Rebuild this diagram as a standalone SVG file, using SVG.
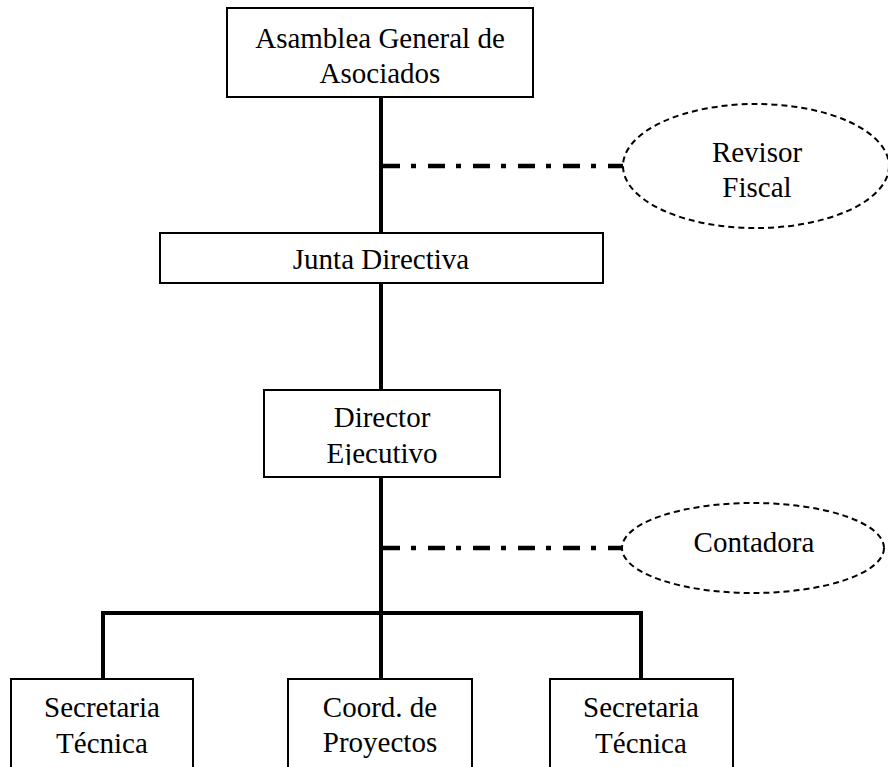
<svg xmlns="http://www.w3.org/2000/svg" width="888" height="767" viewBox="0 0 888 767">
<style>
.box{fill:#fff;stroke:#000;stroke-width:2}
.ell{fill:#fff;stroke:#000;stroke-width:2;stroke-dasharray:6 4}
.t{font-family:"Liberation Serif","Times New Roman",serif;font-size:29px;fill:#000;text-anchor:middle}
.solid{stroke:#000;stroke-width:4;fill:none}
.dd{stroke:#000;stroke-width:4.5;fill:none;stroke-dasharray:17 11 5 12}
</style>
<defs>
<clipPath id="clipDir"><rect x="264" y="390" width="236" height="75"/></clipPath>
</defs>
<rect width="888" height="767" fill="#fff"/>
<g id="connectors">
<line class="solid" x1="381" y1="97" x2="381" y2="615"/>
<line class="dd" x1="383" y1="166" x2="623" y2="166"/>
<line class="dd" x1="383" y1="548" x2="623" y2="548"/>
<polyline class="solid" points="103,679 103,613 641,613 641,679"/>
<line class="solid" x1="381" y1="613" x2="381" y2="679"/>
</g>
<g id="asamblea">
<rect class="box" x="227" y="8" width="306" height="89"/>
<text class="t" x="380" y="48">Asamblea General de</text>
<text class="t" x="380" y="83">Asociados</text>
</g>
<g id="revisor">
<ellipse class="ell" cx="756" cy="166" rx="133" ry="62"/>
<text class="t" x="757" y="162">Revisor</text>
<text class="t" x="757" y="197">Fiscal</text>
</g>
<g id="junta">
<rect class="box" x="160" y="233" width="443" height="50"/>
<text class="t" x="381" y="269">Junta Directiva</text>
</g>
<g id="director">
<rect class="box" x="264" y="390" width="236" height="87"/>
<g clip-path="url(#clipDir)">
<text class="t" x="382" y="427">Director</text>
<text class="t" x="382" y="463">Ejecutivo</text>
</g>
</g>
<g id="contadora">
<ellipse class="ell" cx="753" cy="548" rx="131" ry="45"/>
<text class="t" x="754" y="552">Contadora</text>
</g>
<g id="sec1">
<rect class="box" x="11" y="679" width="182" height="100"/>
<text class="t" x="102" y="717">Secretaria</text>
<text class="t" x="102" y="753">Técnica</text>
</g>
<g id="coord">
<rect class="box" x="288" y="679" width="184" height="100"/>
<text class="t" x="380" y="717">Coord. de</text>
<text class="t" x="380" y="752">Proyectos</text>
</g>
<g id="sec2">
<rect class="box" x="550" y="679" width="183" height="100"/>
<text class="t" x="641" y="717">Secretaria</text>
<text class="t" x="641" y="753">Técnica</text>
</g>
</svg>
